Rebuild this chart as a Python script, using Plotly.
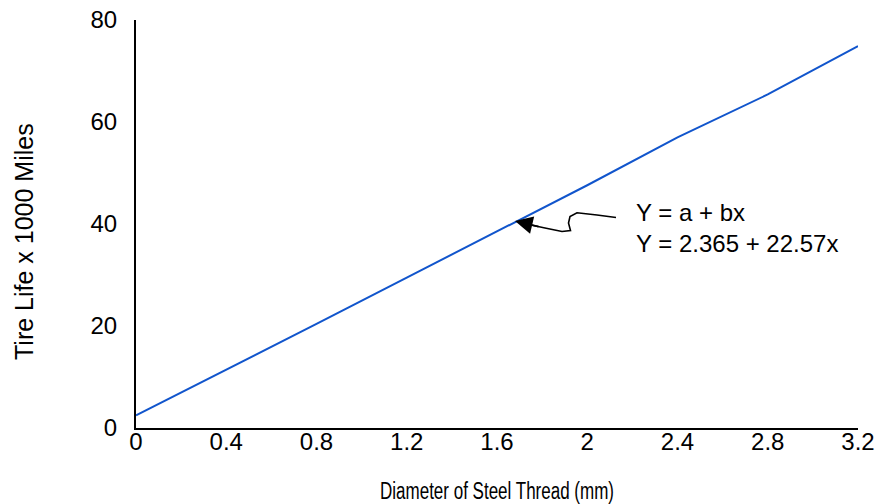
import plotly.graph_objects as go

# Data
diameter_mm = [0.0, 0.4, 0.8, 1.2, 1.6, 2.0, 2.4, 2.8, 3.2]
tire_life_k = [2.5, 11.4, 20.4, 29.5, 38.6, 47.6, 57.0, 65.4, 74.9]
x_ticks = [0, 0.4, 0.8, 1.2, 1.6, 2.0, 2.4, 2.8, 3.2]
x_tick_text = ["0", "0.4", "0.8", "1.2", "1.6", "2", "2.4", "2.8", "3.2"]
y_ticks = [0, 20, 40, 60, 80]

W, H = 878, 504
ML, MR, MT, MB = 136, 20, 20, 76
X0, X1, Y0, Y1 = 0, 3.2, 0, 80
PW, PH = W - ML - MR, H - MT - MB


def px2x(px):
    return X0 + (px - ML) / PW * (X1 - X0)


def py2y(py):
    return Y0 + (H - MB - py) / PH * (Y1 - Y0)


FONT = "Liberation Sans, Arial, Helvetica, sans-serif"

fig = go.Figure()
fig.add_trace(go.Scatter(
    x=diameter_mm, y=tire_life_k, mode="lines",
    line=dict(color="#1155cc", width=2), showlegend=False,
    hoverinfo="skip",
))

# hand-drawn wiggly leader line (pixel points converted to data)
wiggle_px = [(616, 217.5), (597, 215), (577, 212.7), (570, 216.5), (568.5, 223),
             (570.5, 230.5), (562, 231.5), (545, 228), (531, 225)]
path = "M {} {}".format(px2x(wiggle_px[0][0]), py2y(wiggle_px[0][1]))
for i in range(1, len(wiggle_px)):
    path += " L {} {}".format(px2x(wiggle_px[i][0]), py2y(wiggle_px[i][1]))
fig.add_shape(type="path", path=path, xref="x", yref="y",
              line=dict(color="black", width=1.6))

# arrow head
fig.add_annotation(x=px2x(515), y=py2y(221), xref="x", yref="y",
                   ax=px2x(540), ay=py2y(227), axref="x", ayref="y",
                   showarrow=True, arrowhead=2, arrowsize=2.2, arrowwidth=1.6,
                   arrowcolor="black", text="")

fig.add_annotation(x=px2x(634), y=py2y(228), xref="x", yref="y",
                   xanchor="left", yanchor="middle", showarrow=False,
                   align="left",
                   text="Y = a + bx<br>Y = 2.365 + 22.57x",
                   font=dict(family=FONT, size=24, color="black"))

# y-axis title (placed a little below the plot's middle, as in the reference)
fig.add_annotation(x=(24 - ML) / PW, y=(H - MB - 242) / PH, xref="paper", yref="paper",
                   xanchor="center", yanchor="middle", showarrow=False,
                   textangle=-90, text="Tire Life x 1000 Miles",
                   font=dict(family=FONT, size=25, color="black"))

fig.update_layout(
    width=W, height=H,
    margin=dict(l=ML, r=MR, t=MT, b=MB),
    paper_bgcolor="white", plot_bgcolor="white",
    font=dict(family=FONT, color="black", size=24),
    xaxis=dict(
        range=[X0, X1], tickvals=x_ticks, ticktext=x_tick_text,
        showgrid=False, zeroline=False, showline=True,
        linecolor="black", linewidth=2, ticks="",
        automargin=False, ticklabelstandoff=-9,
        tickfont=dict(size=24),
        title=dict(text="Diameter of Steel Thread (mm)",
                   font=dict(size=23), standoff=31),
    ),
    yaxis=dict(
        range=[Y0, Y1], tickvals=y_ticks,
        showgrid=False, zeroline=False, showline=True,
        linecolor="black", linewidth=2, ticks="",
        automargin=False, ticklabelstandoff=12,
        tickfont=dict(size=24),
    ),
)

# remove the page margin so the figure sits at the window's corner, and
# squeeze the x-axis title to the condensed width used in the reference
post = """
document.body.style.margin = '0';
var t = document.querySelector('.g-xtitle text');
if (t) { t.setAttribute('textLength', '234'); t.setAttribute('lengthAdjust', 'spacingAndGlyphs'); }
"""
fig.write_html("out.html", post_script=post, config={"displayModeBar": False})
